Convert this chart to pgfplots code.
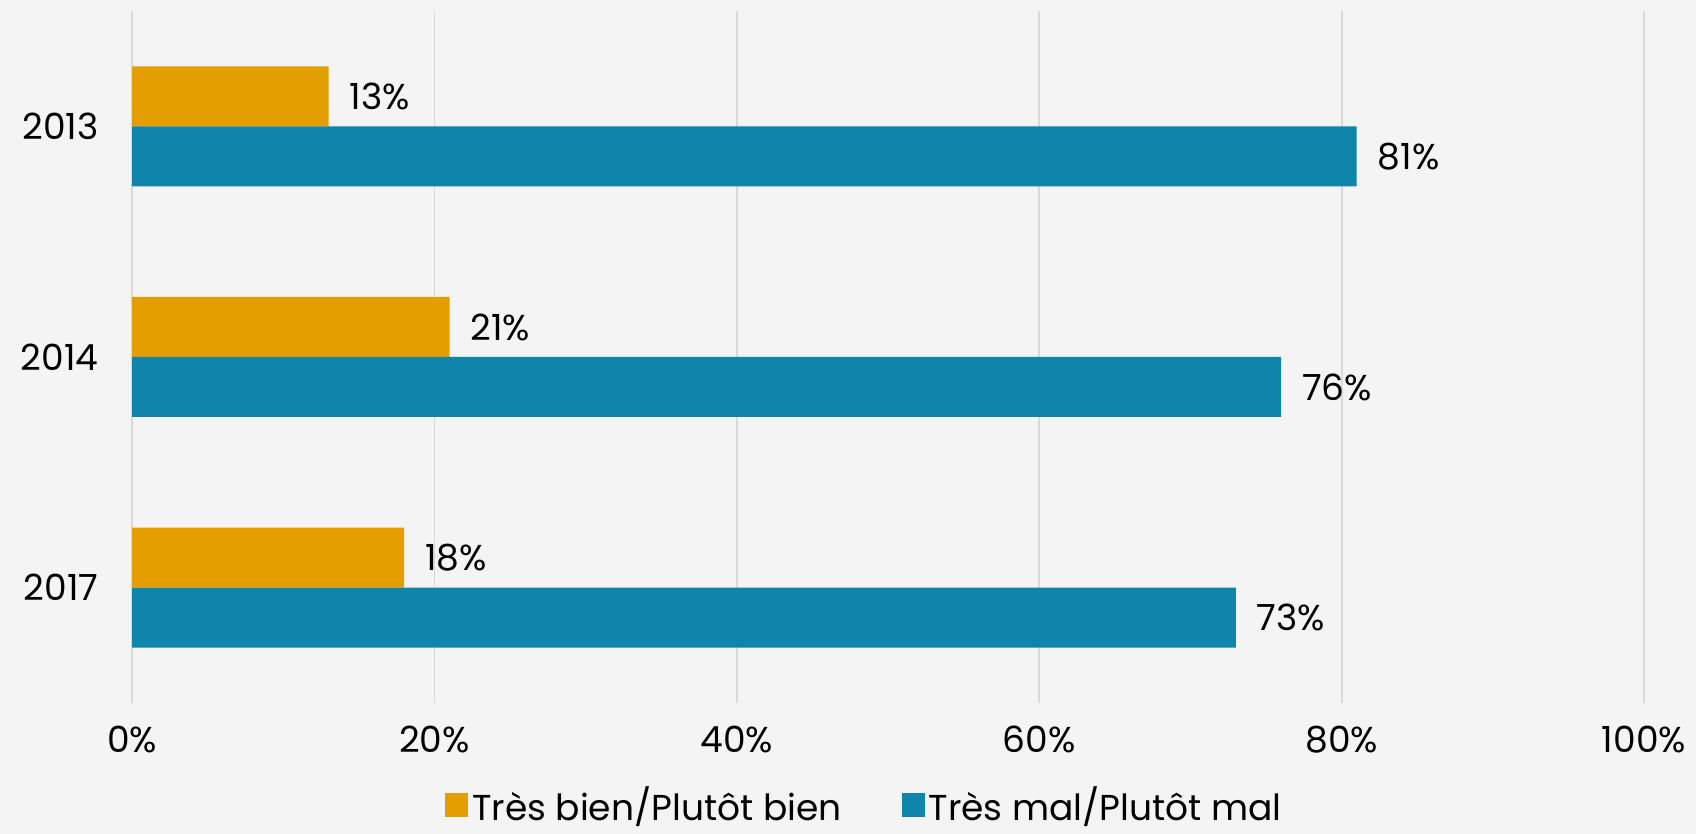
\documentclass[border=0pt]{standalone}
\usepackage{fontspec}
\setmainfont{Poppins}
\usepackage{pgfplots}
\pgfplotsset{compat=1.18}
\definecolor{orangebar}{HTML}{E59E00}
\definecolor{bluebar}{HTML}{1085AB}
\definecolor{bggray}{HTML}{F4F4F4}
\definecolor{gridgray}{HTML}{D9D9D9}
\begin{document}
\begin{tikzpicture}
\fill[bggray] (0,0) rectangle (848pt,417pt);
\useasboundingbox (0,0) rectangle (848pt,417pt);
\begin{axis}[
  at={(66pt,65.5pt)}, anchor=south west,
  scale only axis, width=756pt, height=346pt,
  xbar, bar width=30pt,
  xmin=0, xmax=100, ymin=0.5, ymax=3.5,
  ytick={1,2,3}, yticklabels={2017,2014,2013},
  xtick={0,20,...,100},
  xticklabel={\pgfmathprintnumber{\tick}\%},
  /pgf/number format/assume math mode=true,
  axis line style={draw=none}, major tick style={draw=none},
  xmajorgrids, grid style={draw=gridgray, line width=0.9pt},
  font=\fontsize{18}{20}\selectfont,
  ticklabel style={font=\fontsize{18}{20}\selectfont},
  yticklabel style={xshift=-9pt},
  xticklabel style={yshift=-8pt},
  nodes near coords={\pgfmathprintnumber{\pgfplotspointmeta}\%},
  nodes near coords align={horizontal},
  every node near coord/.append style={font=\fontsize{18}{20}\selectfont, xshift=7pt, text=black},
  legend columns=2,
  legend style={at={(0.485,-0.148)}, anchor=center, draw=none, fill=none,
    font=\fontsize{18}{20}\selectfont,
    /tikz/every even column/.append style={column sep=28pt}},
  legend image code/.code={\fill[#1] (0pt,-6pt) rectangle (11.5pt,6pt);},
]
\addplot[fill=orangebar, draw=none, bar shift=15pt] coordinates {(13,3) (21,2) (18,1)};
\addlegendentry{Très bien/Plutôt bien}
\addplot[fill=bluebar, draw=none, bar shift=-15pt] coordinates {(81,3) (76,2) (73,1)};
\addlegendentry{Très mal/Plutôt mal}
\end{axis}
\end{tikzpicture}
\end{document}
